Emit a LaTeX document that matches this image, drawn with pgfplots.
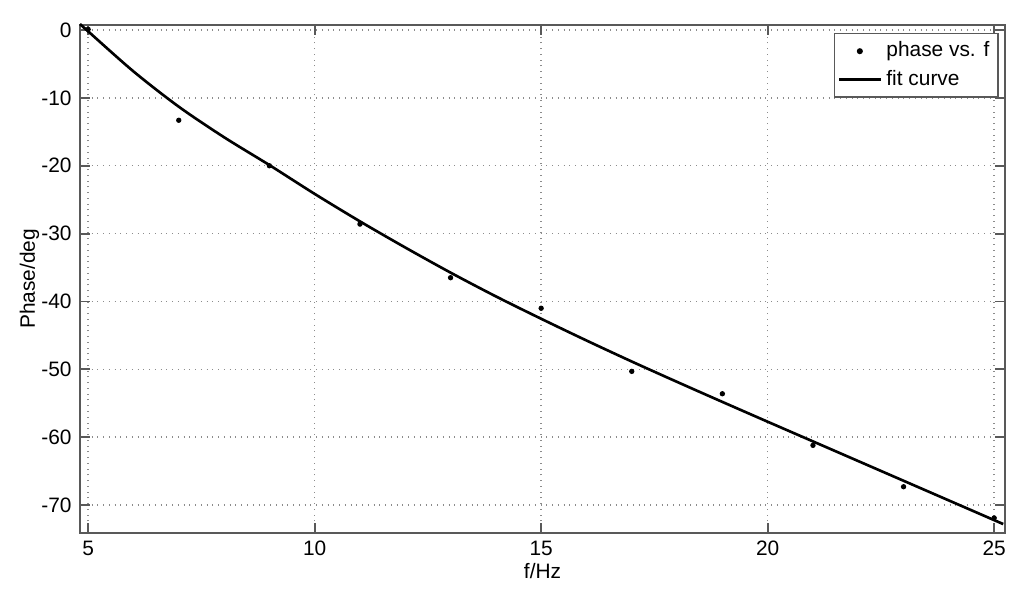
\documentclass[border=0pt]{standalone}
\usepackage{fontspec}
\setmainfont{Liberation Sans}
\usepackage{pgfplots}
\pgfplotsset{compat=1.18}

\begin{document}
\begin{tikzpicture}
\begin{axis}[
    scale only axis,
    width=13.55cm, height=7.44cm,
    xmin=4.82, xmax=25.24,
    ymin=-74.1, ymax=0.74,
    xtick={5,10,15,20,25},
    ytick={-70,-60,-50,-40,-30,-20,-10,0},
    /pgf/number format/assume math mode=true,
    tick align=inside,
    tick pos=both,
    major tick length=4pt,
    axis line style={black!65, line width=0.9pt},
    every tick/.style={black!65, line width=0.8pt},
    grid=major,
    major grid style={black!45, dotted, line width=0.6pt},
    ticklabel style={font=\fontsize{8.7}{10}\selectfont},
    label style={font=\fontsize{8.7}{10}\selectfont},
    xlabel={f/Hz},
    ylabel={Phase/deg},
    xlabel style={yshift=4pt},
    ylabel style={yshift=-6pt},
    legend style={at={(0.993,0.985)}, anchor=north east,
        draw=black!65, line width=0.7pt,
        font=\fontsize{8.7}{10}\selectfont,
        inner sep=1.5pt, row sep=0pt},
    legend cell align=left,
    clip=false,
]
\addplot[only marks, mark=*, mark size=0.9pt, black] coordinates {
(5,0.1)(7,-13.3)(9,-20.0)(11,-28.6)(13,-36.5)(15,-41.0)
(17,-50.3)(19,-53.6)(21,-61.2)(23,-67.3)(25,-71.9)
};
\addlegendentry{phase vs. f}
\addplot[black, line width=1.1pt, smooth] coordinates {
(4.82,0.88)(5,-0.2)(6,-6.1)(7,-11.3)(8,-15.8)(9,-19.9)(10,-24.15)
(11,-28.2)(12,-32.05)(13,-35.75)(14,-39.25)(15,-42.55)(16,-45.75)
(17,-48.85)(18,-51.85)(19,-54.8)(20,-57.72)(21,-60.62)(22,-63.52)
(23,-66.42)(24,-69.32)(25,-72.22)(25.2,-72.8)
};
\addlegendentry{fit curve}
\end{axis}
\path (current axis.south west) ++(-1.172cm,-0.967cm) rectangle
      ([shift={(0.278cm,0.366cm)}]current axis.north east);
\end{tikzpicture}
\end{document}
